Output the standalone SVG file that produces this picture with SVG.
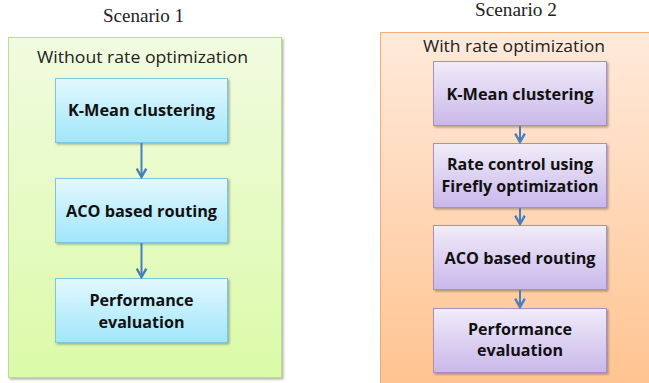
<svg xmlns="http://www.w3.org/2000/svg" width="649" height="383" viewBox="0 0 649 383">
<defs>
<linearGradient id="gGreen" x1="0" y1="0" x2="0" y2="1"><stop offset="0" stop-color="#f1fbe0"/><stop offset="1" stop-color="#dbfaa8"/></linearGradient>
<linearGradient id="gOrange" x1="0" y1="0" x2="0" y2="1"><stop offset="0" stop-color="#ffeadb"/><stop offset="1" stop-color="#ffbe86"/></linearGradient>
<linearGradient id="gBlue" x1="0" y1="0" x2="0" y2="1"><stop offset="0" stop-color="#e3f8fe"/><stop offset="1" stop-color="#a0e6fb"/></linearGradient>
<linearGradient id="gPurple" x1="0" y1="0" x2="0" y2="1"><stop offset="0" stop-color="#f1ecf9"/><stop offset="1" stop-color="#c9b8ea"/></linearGradient>
<filter id="sh" x="-10%" y="-10%" width="130%" height="130%"><feDropShadow dx="1.5" dy="1.5" stdDeviation="1" flood-color="#000" flood-opacity="0.3"/></filter>
<marker id="arr" viewBox="0 0 10 10" refX="8.5" refY="5" markerWidth="6" markerHeight="6" orient="auto" markerUnits="strokeWidth"><path d="M1.5,1 L8.5,5 L1.5,9" fill="none" stroke="#4a7ebb" stroke-width="2"/></marker>
</defs>
<style>
.title{font-family:"Liberation Serif",serif;font-size:18px;fill:#222;text-anchor:middle}
.sub{font-family:"Open Sans","Liberation Sans",sans-serif;font-size:16px;fill:#222;text-anchor:middle}
.lbl{font-family:"Open Sans","Liberation Sans",sans-serif;font-size:16px;font-weight:bold;fill:#111;text-anchor:middle}
.bb{fill:url(#gBlue);stroke:#7cc6e4;stroke-width:1;filter:url(#sh)}
.pb{fill:url(#gPurple);stroke:#a28fcb;stroke-width:1;filter:url(#sh)}
.con{stroke:#4a7ebb;stroke-width:2;fill:none;marker-end:url(#arr)}
</style>
<rect width="649" height="383" fill="#fff"/>
<g id="scenario1">
<text class="title" x="143.5" y="22" textLength="81" lengthAdjust="spacingAndGlyphs">Scenario 1</text>
<rect x="8.5" y="37.5" width="273" height="340" fill="url(#gGreen)" stroke="#bcdc94" filter="url(#sh)"/>
<text class="sub" x="142.5" y="63" textLength="211" lengthAdjust="spacingAndGlyphs">Without rate optimization</text>
</g>
<g id="scenario2">
<text class="title" x="516" y="16" textLength="82" lengthAdjust="spacingAndGlyphs">Scenario 2</text>
<rect x="380.5" y="32.5" width="300" height="400" fill="url(#gOrange)" stroke="#f4ad74"/>
<text class="sub" x="514" y="52" textLength="182" lengthAdjust="spacingAndGlyphs">With rate optimization</text>
</g>
<g id="s1-kmean">
<rect class="bb" x="55.5" y="78.5" width="172" height="64"/>
<text class="lbl" x="141.5" y="116" textLength="147" lengthAdjust="spacingAndGlyphs">K-Mean clustering</text>
</g>
<g id="s1-aco">
<rect class="bb" x="55.5" y="178.5" width="172" height="64"/>
<text class="lbl" x="141.5" y="217" textLength="151" lengthAdjust="spacingAndGlyphs">ACO based routing</text>
</g>
<g id="s1-perf">
<rect class="bb" x="55.5" y="278.5" width="172" height="64"/>
<text class="lbl" x="141.5" y="306" textLength="104" lengthAdjust="spacingAndGlyphs">Performance</text>
<text class="lbl" x="141.5" y="328" textLength="86" lengthAdjust="spacingAndGlyphs">evaluation</text>
</g>
<g id="s2-kmean">
<rect class="pb" x="433.5" y="61.5" width="173" height="64"/>
<text class="lbl" x="520" y="100" textLength="147" lengthAdjust="spacingAndGlyphs">K-Mean clustering</text>
</g>
<g id="s2-rate">
<rect class="pb" x="433.5" y="143.5" width="173" height="64"/>
<text class="lbl" x="520" y="170" textLength="146" lengthAdjust="spacingAndGlyphs">Rate control using</text>
<text class="lbl" x="520" y="192" textLength="157" lengthAdjust="spacingAndGlyphs">Firefly optimization</text>
</g>
<g id="s2-aco">
<rect class="pb" x="433.5" y="225.5" width="173" height="64"/>
<text class="lbl" x="520" y="264" textLength="151" lengthAdjust="spacingAndGlyphs">ACO based routing</text>
</g>
<g id="s2-perf">
<rect class="pb" x="433.5" y="308.5" width="173" height="64"/>
<text class="lbl" x="520" y="335" textLength="104" lengthAdjust="spacingAndGlyphs">Performance</text>
<text class="lbl" x="520" y="356" textLength="86" lengthAdjust="spacingAndGlyphs">evaluation</text>
</g>
<g id="connectors">
<line class="con" x1="141.5" y1="143" x2="141.5" y2="177"/>
<line class="con" x1="141.5" y1="243" x2="141.5" y2="277"/>
<line class="con" x1="520" y1="126" x2="520" y2="142"/>
<line class="con" x1="520" y1="208" x2="520" y2="224"/>
<line class="con" x1="520" y1="290" x2="520" y2="307"/>
</g>
</svg>
